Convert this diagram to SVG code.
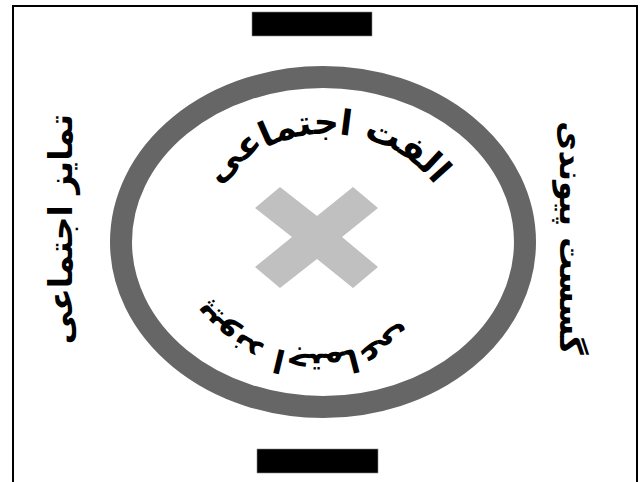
<svg xmlns="http://www.w3.org/2000/svg" width="640" height="482" viewBox="0 0 640 482">
<style>
.lbl{font-family:"DejaVu Sans","Noto Sans",sans-serif;font-weight:bold;fill:#000;}
.bar{fill:#000;stroke:#888;stroke-width:0.6;}
</style>
<defs>
<path id="arcTop" d="M189.1,249.7 A140,140 0 0 1 464.9,249.7"/>
<path id="arcBot" d="M454.8,236.7 A142,142 0 0 1 175.2,236.7"/>
</defs>
<rect width="640" height="482" fill="#fff"/>
<g id="frame"><rect x="13" y="6" width="624" height="500" fill="none" stroke="#000" stroke-width="2"/></g>
<g id="ring"><ellipse cx="323" cy="242" rx="202" ry="165" fill="none" stroke="#666" stroke-width="22"/></g>
<g id="cross"><polygon points="280,187 317,216 353,187 378,208 342,237 378,267 353,288 317,259 280,288 255,267 292,237 255,208" fill="#c0c0c0"/></g>
<g id="barTop"><rect class="bar" x="252" y="12" width="120" height="24"/></g>
<g id="barBottom"><rect class="bar" x="257" y="449" width="121" height="24"/></g>
<g id="labelTop"><text class="lbl" font-size="35"><textPath href="#arcTop" startOffset="50%" text-anchor="middle">الفت اجتماعی</textPath></text></g>
<g id="labelBottom"><text class="lbl" font-size="32"><textPath href="#arcBot" startOffset="53.8%" text-anchor="middle">پیوند اجتماعی</textPath></text></g>
<g id="labelLeft"><text class="lbl" font-size="33" text-anchor="middle" transform="translate(72,229) rotate(-90)">تمایز اجتماعی</text></g>
<g id="labelRight"><text class="lbl" font-size="32" text-anchor="middle" transform="translate(560,238) rotate(90)">گسست پیوندی</text></g>
</svg>
